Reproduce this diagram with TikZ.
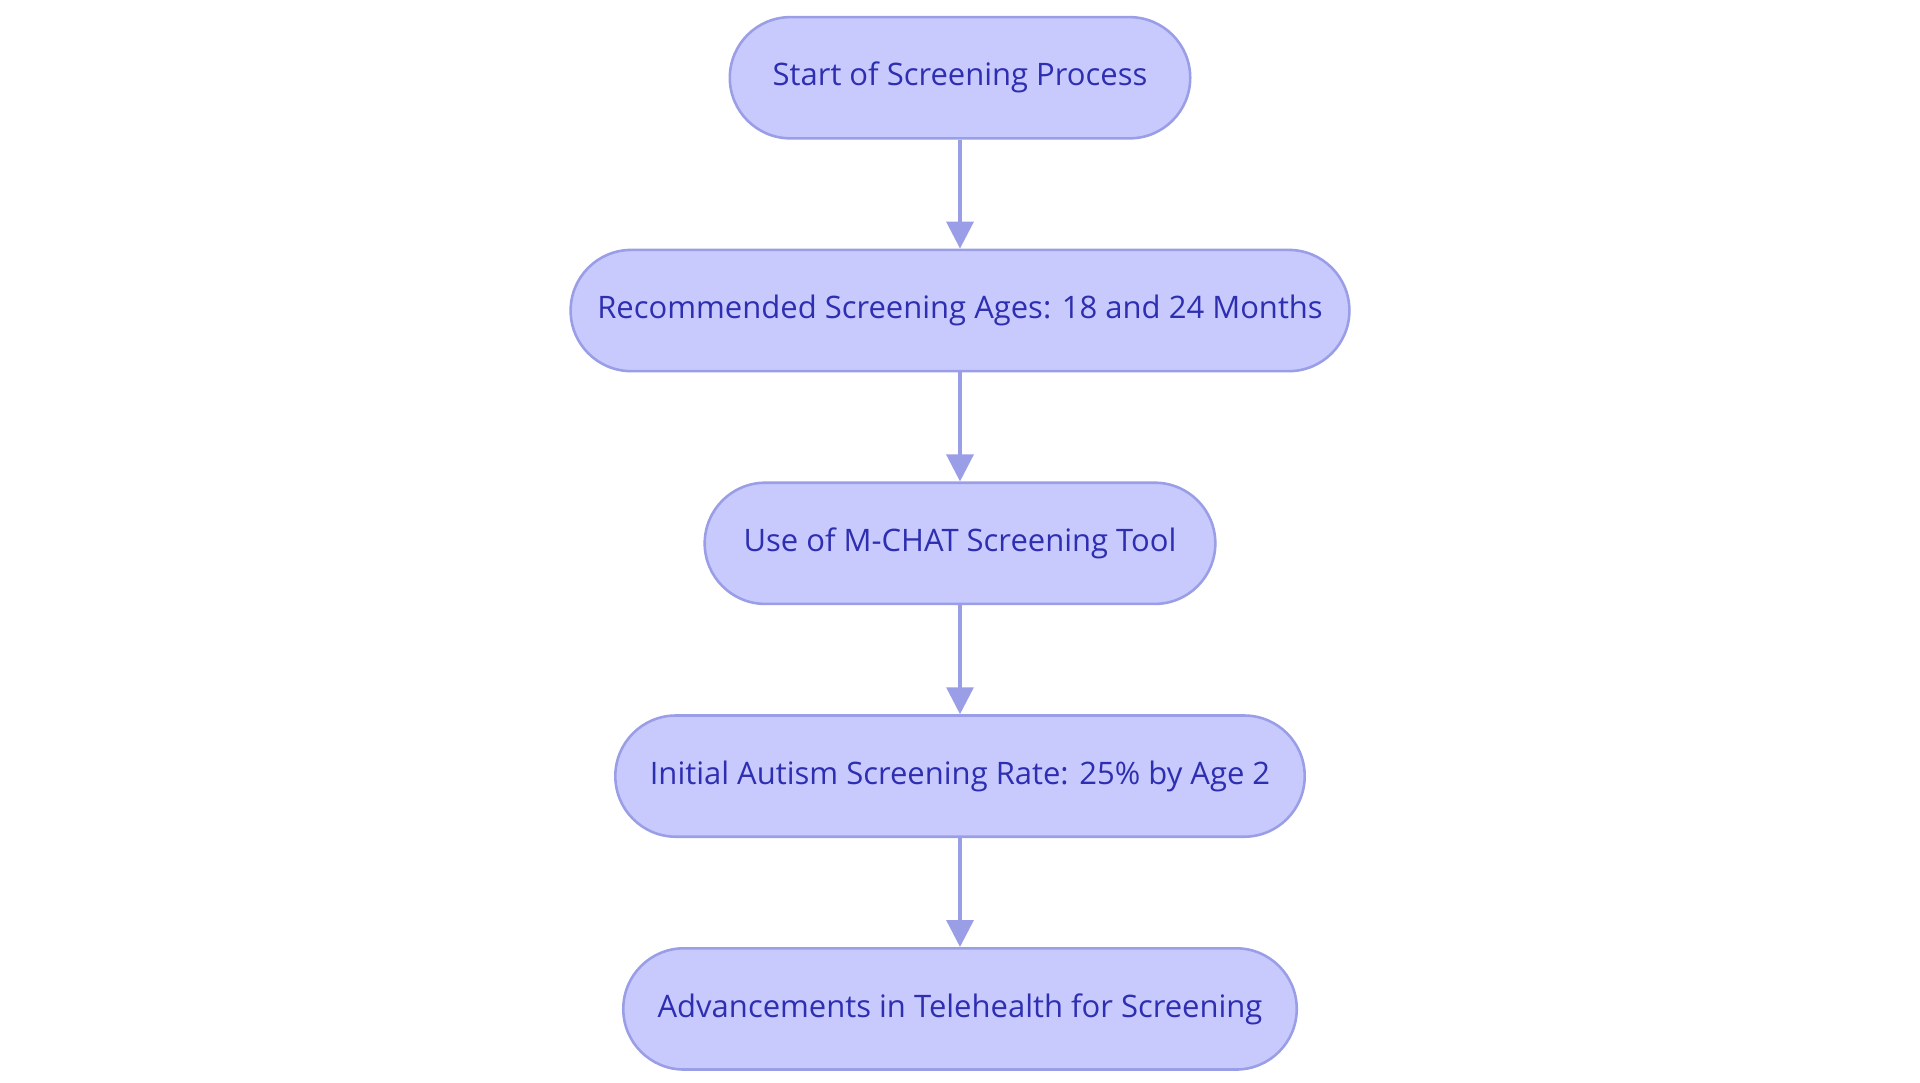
\documentclass[tikz,border=0pt]{standalone}
\usepackage{fontspec}
\setmainfont{Open Sans}
\usetikzlibrary{positioning,arrows.meta}
\definecolor{boxfill}{HTML}{C8CAFE}
\definecolor{boxline}{HTML}{9A9EE6}
\definecolor{boxtext}{HTML}{2E2EB0}
\begin{document}
\begin{tikzpicture}[stepnode/.style={draw=boxline,fill=boxfill,line width=0.6pt,rounded corners=0.495cm,minimum height=0.99cm,inner sep=0pt,text=boxtext,font=\fontsize{7.2}{8}\selectfont},
	flow/.style={draw=boxline,line width=0.8pt,-{Triangle[length=2.2mm,width=2.2mm]}}]
		\useasboundingbox (0,0) rectangle (15.68,-8.84);
		\node[stepnode,minimum width=3.76cm]						(start)		at (7.84,-0.635) {Start of Screening Process};
		\node[stepnode,minimum width=6.36cm,node distance=0.89cm,below=of start]	(ages)		{Recommended Screening Ages: 18 and 24 Months};
		\node[stepnode,minimum width=4.17cm,node distance=0.89cm,below=of ages]	(mchat)		{Use of M-CHAT Screening Tool};
		\node[stepnode,minimum width=5.63cm,node distance=0.89cm,below=of mchat]	(rate)		{Initial Autism Screening Rate: 25\% by Age 2};
		\node[stepnode,minimum width=5.50cm,node distance=0.89cm,below=of rate]	(tele)		{Advancements in Telehealth for Screening};

		\draw[flow] (start) -- (ages);
		\draw[flow] (ages) -- (mchat);
		\draw[flow] (mchat) -- (rate);
		\draw[flow] (rate) -- (tele);
	\end{tikzpicture}
\end{document}
